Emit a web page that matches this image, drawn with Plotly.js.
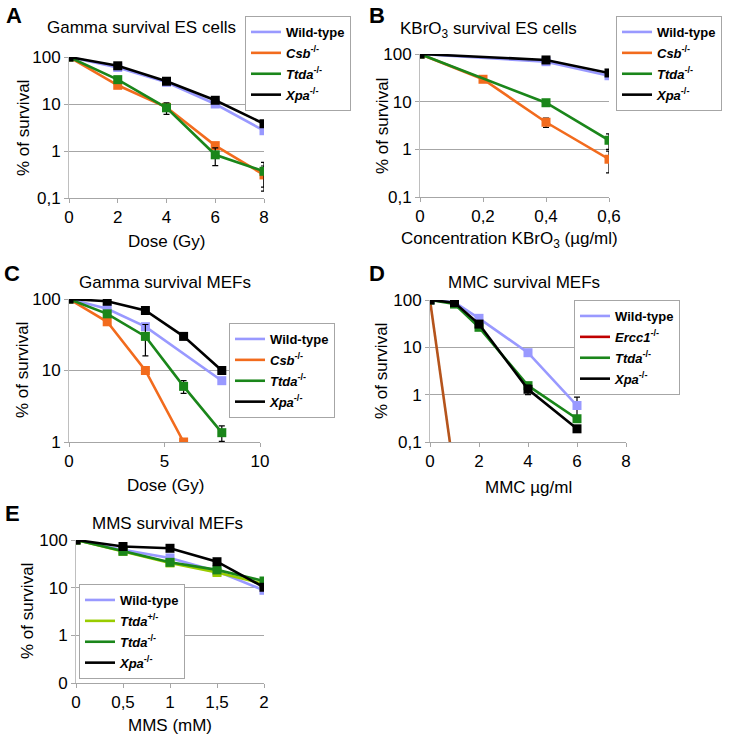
<!DOCTYPE html>
<html><head><meta charset="utf-8">
<script src="https://cdn.plot.ly/plotly-3.0.1.min.js"></script>
<style>html,body{margin:0;padding:0;background:#fff}#chart{width:731px;height:739px}</style>
</head><body><div id="chart"></div>
<script>
// ---------- Panel A: Gamma survival ES cells ----------
const doseA = [0, 2, 4, 6, 8];
const A_wt = [100, 60, 29, 10, 2.7];
const A_wt_err = [0, 3, 2, 1, 0.3];
const A_csb = [100, 25, 8.5, 1.3, 0.31];
const A_csb_err = [0, 2, 1, 0.15, 0.17];
const A_ttda = [100, 33, 8.3, 0.83, 0.37];
const A_ttda_err = [0, 3, 2.3, 0.34, 0.2];
const A_xpa = [100, 65, 30.5, 12, 3.8];
const A_xpa_err = [0, 4, 2, 1, 0.3];
// ---------- Panel B: KBrO3 survival ES cells ----------
const concB_wt = [0, 0.4, 0.6];
const B_wt = [100, 69, 35];
const concB_csb = [0, 0.2, 0.4, 0.6];
const B_csb = [100, 29.5, 3.7, 0.62];
const B_csb_err = [0, 2, 0.8, 0.3];
const concB_ttda = [0, 0.4, 0.6];
const B_ttda = [100, 9.5, 1.55];
const B_ttda_err = [0, 0.8, 0.55];
const concB_xpa = [0, 0.4, 0.6];
const B_xpa = [100, 75, 40];
const B_xpa_err = [0, 6, 4];
// ---------- Panel C: Gamma survival MEFs ----------
const doseC_wt = [0, 2, 4, 8];
const C_wt = [100, 73, 41, 7.2];
const doseC_csb = [0, 2, 4, 6];
const C_csb = [100, 48, 10, 1];
const doseC = [0, 2, 4, 6, 8];
const C_ttda = [100, 62, 30, 6, 1.35];
const C_ttda_err = [0, 3, 14, 1.2, 0.33];
const C_xpa = [100, 93, 69, 30, 10];
// ---------- Panel D: MMC survival MEFs ----------
const mmcD = [0, 1, 2, 4, 6];
const D_wt = [100, 90, 41, 7.7, 0.59];
const D_wt_err = [0, 0, 0, 0, 0.3];
const mmcD_ercc1 = [0, 1];
const D_ercc1 = [100, 0.02];
const D_ttda = [100, 82, 26.5, 1.55, 0.31];
const D_xpa = [100, 88, 31, 1.3, 0.19];
const D_xpa_err = [0, 0, 0, 0.3, 0];
// ---------- Panel E: MMS survival MEFs ----------
const mmsE = [0, 0.5, 1, 1.5, 2];
const E_wt = [100, 62, 42, 22, 8.8];
const E_het = [100, 58, 33, 20.8, 12];
const E_ttda = [100, 58, 34, 23.6, 13.8];
const E_xpa = [100, 73, 67, 35, 10.2];
// ---------- Tick labels ----------
const logTickVals = [0.1, 1, 10, 100];
const logTickText = ['0,1', '1', '10', '100'];
const logTickTextE = ['0', '1', '10', '100'];
const tickValsA = [0, 2, 4, 6, 8];
const tickTextA = ['0', '2', '4', '6', '8'];
const tickValsB = [0, 0.2, 0.4, 0.6];
const tickTextB = ['0', '0,2', '0,4', '0,6'];
const tickValsC = [0, 5, 10];
const tickTextC = ['0', '5', '10'];
const tickValsD = [0, 2, 4, 6, 8];
const tickTextD = ['0', '2', '4', '6', '8'];
const tickValsE = [0, 0.5, 1, 1.5, 2];
const tickTextE = ['0', '0,5', '1', '1,5', '2'];
// ---------- Legend entries per panel ----------
const legendA = ['wt', 'csb', 'ttda', 'xpa'];
const legendB = ['wt', 'csb', 'ttda', 'xpa'];
const legendC = ['wt', 'csb', 'ttda', 'xpa'];
const legendD = ['wt', 'ercc1', 'ttda', 'xpa'];
const legendE = ['wt', 'het', 'ttda', 'xpa'];

const COL = {wt: '#9999FF', csb: '#F26B1D', ttda: '#1A861A', xpa: '#000000', ercc1: '#C00000', ercc1Line: '#B5541C', het: '#99CC00'};
const NAMES = {
  wt: '<b>Wild-type</b>',
  csb: '<b><i>Csb</i><sup>-/-</sup></b>',
  ttda: '<b><i>Ttda</i><sup>-/-</sup></b>',
  xpa: '<b><i>Xpa</i><sup>-/-</sup></b>',
  ercc1: '<b><i>Ercc1</i><sup>-/-</sup></b>',
  het: '<b><i>Ttda</i><sup>+/-</sup></b>'
};

function tr(x, y, key, ax, err, opts) {
  const t = {
    x: x, y: y, type: 'scatter', mode: 'lines+markers', name: NAMES[key], showlegend: false,
    xaxis: 'x' + ax, yaxis: 'y' + ax,
    line: {color: COL[key], width: 2.6},
    marker: {symbol: 'square', size: 9, color: COL[key]},
    hoverinfo: 'x+y'
  };
  if (err) t.error_y = {type: 'data', array: err, visible: true, color: '#000', thickness: 1.2, width: 3};
  return Object.assign(t, opts || {});
}
// legend-only entries (line sample without marker, as in the reference)
function legEntries(keys, ax, leg) {
  return keys.map((k, i) => ({
    x: [null], y: [null], type: 'scatter', mode: 'lines', name: NAMES[k],
    xaxis: 'x' + ax, yaxis: 'y' + ax, legend: leg, legendgroup: leg + '_' + i,
    line: {color: COL[k], width: 2.6}, hoverinfo: 'skip'
  }));
}

const data = [
  tr(doseA, A_wt, 'wt', '', A_wt_err),
  tr(doseA, A_csb, 'csb', '', A_csb_err),
  tr(doseA, A_ttda, 'ttda', '', A_ttda_err),
  tr(doseA, A_xpa, 'xpa', '', A_xpa_err),

  tr(concB_wt, B_wt, 'wt', '2'),
  tr(concB_csb, B_csb, 'csb', '2', B_csb_err),
  tr(concB_ttda, B_ttda, 'ttda', '2', B_ttda_err),
  tr(concB_xpa, B_xpa, 'xpa', '2', B_xpa_err),

  tr(doseC_wt, C_wt, 'wt', '3'),
  tr(doseC_csb, C_csb, 'csb', '3'),
  tr(doseC, C_ttda, 'ttda', '3', C_ttda_err),
  tr(doseC, C_xpa, 'xpa', '3'),

  tr(mmcD, D_wt, 'wt', '4', D_wt_err),
  tr(mmcD_ercc1, D_ercc1, 'ercc1', '4', null, {mode: 'lines', line: {color: COL.ercc1Line, width: 2.6}}),
  tr(mmcD, D_ttda, 'ttda', '4'),
  tr(mmcD, D_xpa, 'xpa', '4', D_xpa_err),

  tr(mmsE, E_wt, 'wt', '5'),
  tr(mmsE, E_het, 'het', '5'),
  tr(mmsE, E_ttda, 'ttda', '5'),
  tr(mmsE, E_xpa, 'xpa', '5'),

  ...legEntries(legendA, '', 'legend'),
  ...legEntries(legendB, '2', 'legend2'),
  ...legEntries(legendC, '3', 'legend3'),
  ...legEntries(legendD, '4', 'legend4'),
  ...legEntries(legendE, '5', 'legend5')
];

const W = 731, H = 739;
const px = v => v / W;
const py = v => 1 - v / H;
const FONT = 'Liberation Sans, Arial, sans-serif';
const GRID = '#A6A6A6';

function xax(l, r, rng, tv, tt, anchor) {
  return {domain: [px(l), px(r)], range: rng, anchor: anchor, tickmode: 'array', tickvals: tv, ticktext: tt,
    showgrid: false, zeroline: false, showline: true, linecolor: GRID, linewidth: 1,
    ticks: 'outside', ticklen: 4, tickcolor: GRID, tickfont: {family: FONT, size: 17, color: '#000'}, fixedrange: true};
}
function yax(t, b, rng, tt, anchor) {
  return {domain: [py(b), py(t)], type: 'log', range: rng, anchor: anchor, tickmode: 'array', tickvals: logTickVals, ticktext: tt,
    showgrid: true, gridcolor: GRID, gridwidth: 1, zeroline: false, showline: true, linecolor: '#BFBFBF', linewidth: 1,
    ticks: 'outside', ticklen: 4, tickcolor: GRID, tickfont: {family: FONT, size: 17, color: '#000'}, fixedrange: true};
}
function leg(x, y) {
  return {x: px(x), y: py(y), xanchor: 'left', yanchor: 'top', bgcolor: '#fff', bordercolor: '#A6A6A6', borderwidth: 1,
    font: {family: FONT, size: 13, color: '#000'}, traceorder: 'grouped', itemwidth: 30, tracegroupgap: 1};
}
function ann(x, y, text, size, opts) {
  return Object.assign({x: px(x), y: py(y), xref: 'paper', yref: 'paper', text: text, showarrow: false,
    xanchor: 'center', yanchor: 'middle', font: {family: FONT, size: size, color: '#000'}}, opts || {});
}

const layout = {
  width: W, height: H, margin: {l: 0, r: 0, t: 0, b: 0}, paper_bgcolor: '#fff', plot_bgcolor: 'rgba(0,0,0,0)',
  font: {family: FONT}, hovermode: false,
  xaxis: xax(69, 264, [0, 8], tickValsA, tickTextA, 'y'),
  yaxis: yax(57, 198, [-1, 2], logTickText, 'x'),
  xaxis2: xax(420, 609, [0, 0.6], tickValsB, tickTextB, 'y2'),
  yaxis2: yax(54, 197, [-1, 2], logTickText, 'x2'),
  xaxis3: xax(69, 260, [0, 10], tickValsC, tickTextC, 'y3'),
  yaxis3: yax(299, 442, [0, 2], logTickText, 'x3'),
  xaxis4: xax(430, 626, [0, 8], tickValsD, tickTextD, 'y4'),
  yaxis4: yax(300, 442, [-1, 2], logTickText, 'x4'),
  xaxis5: xax(76, 264, [0, 2], tickValsE, tickTextE, 'y5'),
  yaxis5: yax(540, 683, [-1, 2], logTickTextE, 'x5'),
  legend: leg(245, 16),
  legend2: leg(616, 16),
  legend3: leg(229, 323),
  legend4: leg(574, 300),
  legend5: leg(79, 584),
  annotations: [
    ann(14, 15, '<b>A</b>', 22), ann(377, 15, '<b>B</b>', 22), ann(12, 273, '<b>C</b>', 22), ann(377, 273, '<b>D</b>', 22), ann(12, 513, '<b>E</b>', 22),
    ann(141, 28, 'Gamma survival ES cells', 17),
    ann(488, 30, 'KBrO<sub>3</sub> survival ES cells', 17),
    ann(165, 282, 'Gamma survival MEFs', 17),
    ann(524, 282, 'MMC survival MEFs', 17),
    ann(167, 523, 'MMS survival MEFs', 17),
    ann(166, 241, 'Dose (Gy)', 17),
    ann(509, 240, 'Concentration KBrO<sub>3</sub> (µg/ml)', 17),
    ann(165, 485, 'Dose (Gy)', 17),
    ann(528, 487, 'MMC µg/ml', 17),
    ann(170, 725, 'MMS (mM)', 17),
    ann(23, 128, '% of survival', 17, {textangle: -90}),
    ann(382, 126, '% of survival', 17, {textangle: -90}),
    ann(22, 370, '% of survival', 17, {textangle: -90}),
    ann(381, 371, '% of survival', 17, {textangle: -90}),
    ann(27, 611, '% of survival', 17, {textangle: -90})
  ]
};

Plotly.newPlot('chart', data, layout, {displayModeBar: false, staticPlot: true});
</script></body></html>
